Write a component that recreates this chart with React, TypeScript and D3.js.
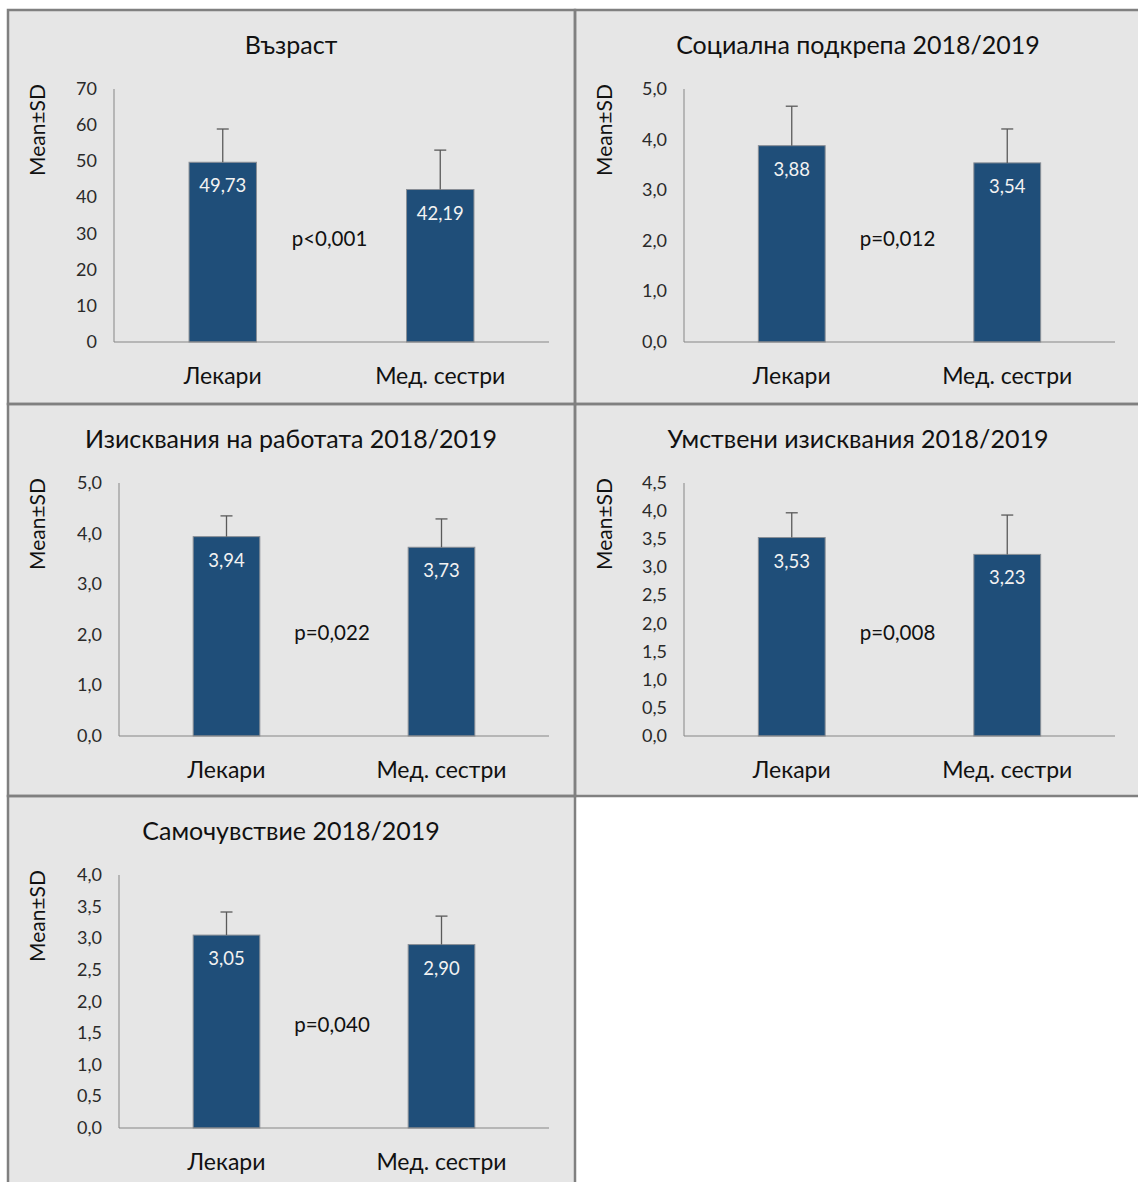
import React from "react";
import * as d3 from "d3";

// Groups compared in every panel
const groups = ["Лекари", "Мед. сестри"];

// One entry per panel, in reading order
const panelTitles = [
  "Възраст",
  "Социална подкрепа 2018/2019",
  "Изисквания на работата 2018/2019",
  "Умствени изисквания 2018/2019",
  "Самочувствие 2018/2019",
];
const means = [
  [49.73, 42.19],
  [3.88, 3.54],
  [3.94, 3.73],
  [3.53, 3.23],
  [3.05, 2.9],
];
const sds = [
  [9.2, 10.9],
  [0.78, 0.67],
  [0.41, 0.56],
  [0.44, 0.7],
  [0.365, 0.45],
];
const pLabels = ["p<0,001", "p=0,012", "p=0,022", "p=0,008", "p=0,040"];
const yMaxes = [70, 5, 5, 4.5, 4];
const tickSteps = [10, 1, 1, 0.5, 0.5];
const tickDecimals = [0, 1, 1, 1, 1];
const valueDecimals = [2, 2, 2, 2, 2];

const FONT = "Lato, 'Open Sans', sans-serif";
const W = 1138;
const H = 1182;

// Grid of cells
const colX = [8, 575, 1140];
const rowY = [10, 404, 796, 1190];
const plotLeft = [106, 109, 111, 109, 111];

const fmt = (v: number, d: number) => v.toFixed(d).replace(".", ",");

function Panel({ i }: { i: number }) {
  const col = i % 2;
  const row = Math.floor(i / 2);
  const x0 = colX[col];
  const y0 = rowY[row];
  const cw = colX[col + 1] - x0;
  const left = plotLeft[i];
  const right = col === 0 ? 541 : 540;
  const top = 79;
  const bottom = 332;

  const x = d3.scaleBand<string>().domain(groups).range([left, right]).paddingInner(0.69).paddingOuter(0.345);
  const y = d3.scaleLinear().domain([0, yMaxes[i]]).range([bottom, top]);
  const ticks = d3.range(0, yMaxes[i] + tickSteps[i] / 2, tickSteps[i]);

  return (
    <g transform={`translate(${x0},${y0})`}>
      <text x={283} y={44} textAnchor="middle" fontSize={25} fill="#111" fontFamily={FONT}>
        {panelTitles[i]}
      </text>
      <text
        transform={`translate(${37},${120}) rotate(-90)`}
        textAnchor="middle"
        fontSize={21}
        fill="#111"
        fontFamily={FONT}
      >
        Mean±SD
      </text>
      {ticks.map((t) => (
        <text key={t} x={left - 17} y={y(t) + 6} textAnchor="end" fontSize={18} fill="#2a2a2a" fontFamily={FONT}>
          {fmt(t, tickDecimals[i])}
        </text>
      ))}
      {groups.map((g, j) => {
        const bx = x(g)!;
        const bw = x.bandwidth();
        const cx = bx + bw / 2;
        const m = means[i][j];
        const hi = m + sds[i][j];
        return (
          <g key={g}>
            <rect x={bx} y={y(m)} width={bw} height={bottom - y(m)} fill="#1f4e79" stroke="#8a8f96" strokeWidth={1} />
            <line x1={cx} x2={cx} y1={y(m)} y2={y(hi)} stroke="#5a5a5a" strokeWidth={1.3} />
            <line x1={cx - 6} x2={cx + 6} y1={y(hi)} y2={y(hi)} stroke="#5a5a5a" strokeWidth={1.3} />
            <text x={cx} y={y(m) + 30} textAnchor="middle" fontSize={18.5} fill="#f2f2f2" fontFamily={FONT}>
              {fmt(m, valueDecimals[i])}
            </text>
            <text x={cx} y={bottom + 42} textAnchor="middle" fontSize={23} fill="#111" fontFamily={FONT}>
              {g}
            </text>
          </g>
        );
      })}
      <line x1={left} x2={left} y1={top} y2={bottom} stroke="#868686" strokeWidth={1} />
      <line x1={left} x2={right} y1={bottom} y2={bottom} stroke="#868686" strokeWidth={1} />
      <text x={(left + right) / 2 - 2} y={236} textAnchor="middle" fontSize={20.5} fill="#111" fontFamily={FONT}>
        {pLabels[i]}
      </text>
      <rect x={0} y={0} width={cw} height={rowY[row + 1] - y0} fill="none" stroke="#808080" strokeWidth={2.5} />
    </g>
  );
}

export default function App() {
  return (
    <svg width={W} height={H} style={{ position: "absolute", left: 0, top: 0, display: "block" }}>
      <rect width={W} height={H} fill="#ffffff" />
      {panelTitles.map((_, i) => {
        const col = i % 2;
        const row = Math.floor(i / 2);
        return (
          <rect
            key={i}
            x={colX[col]}
            y={rowY[row]}
            width={colX[col + 1] - colX[col]}
            height={rowY[row + 1] - rowY[row]}
            fill="#e6e6e6"
          />
        );
      })}
      {panelTitles.map((_, i) => (
        <Panel key={i} i={i} />
      ))}
    </svg>
  );
}
